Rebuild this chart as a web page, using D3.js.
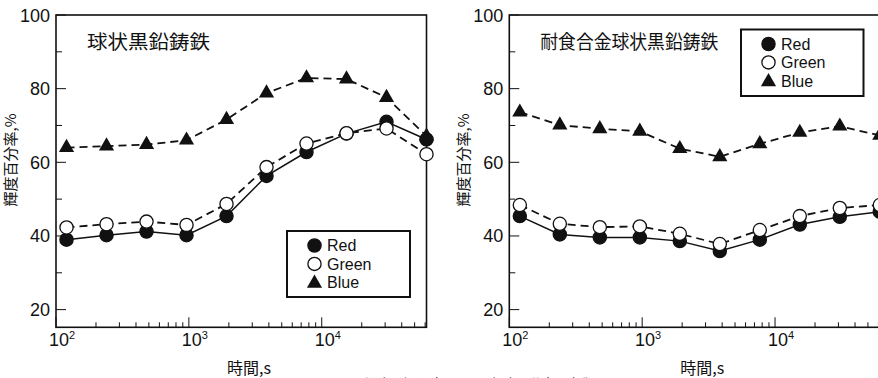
<!DOCTYPE html>
<html>
<head>
<meta charset="utf-8">
<script src="https://cdn.jsdelivr.net/npm/d3@7"></script>
<style>
  body { margin: 0; background: #fff; }
  svg { display: block; font-family: "Liberation Sans", Arial, sans-serif; }
  .jp { font-family: "Noto Sans CJK JP", sans-serif; }
</style>
</head>
<body>
<svg id="chart" width="878" height="378"></svg>
<script>
// elapsed time, s
const times = [120, 240, 480, 960, 1920, 3840, 7680, 15360, 30720, 61440];

// 球状黒鉛鋳鉄
const ductileRed   = [39.0, 40.2, 41.2, 40.2, 45.4, 56.3, 62.8, 67.8, 71.0, 66.2];
const ductileGreen = [42.3, 43.2, 43.9, 43.0, 48.7, 58.7, 65.1, 67.9, 69.2, 62.2];
const ductileBlue  = [64.0, 64.4, 64.8, 66.0, 71.6, 78.8, 82.9, 82.6, 77.6, 67.1];

// 耐食合金球状黒鉛鋳鉄
const alloyRed   = [45.4, 40.4, 39.6, 39.6, 38.6, 35.9, 39.0, 43.1, 45.2, 46.6];
const alloyGreen = [48.4, 43.3, 42.4, 42.6, 40.6, 37.8, 41.6, 45.4, 47.6, 48.4];
const alloyBlue  = [73.6, 70.1, 69.1, 68.4, 63.7, 61.5, 65.0, 68.1, 69.8, 67.3];

const yMajor = [20, 40, 60, 80, 100];
const yMinor = [30, 50, 70, 90];
const xMajor = [100, 1000, 10000];
const legendNames = ["Red", "Green", "Blue"];

const svg = d3.select("#chart");

const panels = [
  { left: 56, title: "球状黒鉛鋳鉄", titleLen: 123,
    red: ductileRed, green: ductileGreen, blue: ductileBlue,
    legend: { x: 287, y: 231, w: 123, h: 66 } },
  { left: 509.3, title: "耐食合金球状黒鉛鋳鉄", titleLen: 178,
    red: alloyRed, green: alloyGreen, blue: alloyBlue,
    legend: { x: 741, y: 29.5, w: 122.5, h: 66.5 } }
];

const plotTop = 15, plotBottom = 327.3, plotW = 370.5;
const y = d3.scaleLinear().domain([15.2, 100]).range([plotBottom, plotTop]);

const tri = d3.symbol(d3.symbolTriangle, 100);

function marker(g, kind, cx, cy) {
  if (kind === "blue") {
    g.append("path").attr("d", tri)
      .attr("transform", `translate(${cx},${cy})`)
      .attr("fill", "#111");
  } else {
    g.append("circle").attr("cx", cx).attr("cy", cy).attr("r", 6.6)
      .attr("fill", kind === "red" ? "#111" : "#fff")
      .attr("stroke", "#111").attr("stroke-width", 1.3);
  }
}

panels.forEach(p => {
  const x = d3.scaleLog().domain([100, 61440]).range([p.left, p.left + plotW]);
  const g = svg.append("g");

  // frame
  g.append("rect").attr("x", p.left).attr("y", plotTop)
    .attr("width", plotW).attr("height", plotBottom - plotTop)
    .attr("fill", "none").attr("stroke", "#111").attr("stroke-width", 1.6);

  // y ticks (inward)
  yMajor.forEach(v => {
    g.append("line").attr("x1", p.left).attr("x2", p.left + 10)
      .attr("y1", y(v)).attr("y2", y(v)).attr("stroke", "#111").attr("stroke-width", 1);
    g.append("text").attr("x", p.left - 6).attr("y", y(v) + 6.5)
      .attr("text-anchor", "end").attr("font-size", 18).attr("fill", "#111")
      .text(v);
  });
  yMinor.forEach(v => {
    g.append("line").attr("x1", p.left).attr("x2", p.left + 6)
      .attr("y1", y(v)).attr("y2", y(v)).attr("stroke", "#111").attr("stroke-width", 1);
  });

  // x ticks (inward)
  const minor = [];
  xMajor.forEach(d => { for (let k = 2; k <= 9; k++) if (d * k < 61000) minor.push(d * k); });
  minor.forEach(v => {
    g.append("line").attr("x1", x(v)).attr("x2", x(v))
      .attr("y1", plotBottom).attr("y2", plotBottom - 5).attr("stroke", "#111").attr("stroke-width", 1);
  });
  xMajor.forEach(v => {
    g.append("line").attr("x1", x(v)).attr("x2", x(v))
      .attr("y1", plotBottom).attr("y2", plotBottom - 10).attr("stroke", "#111").attr("stroke-width", 1);
    const t = g.append("text").attr("x", x(v) + 6).attr("y", 346)
      .attr("text-anchor", "middle").attr("font-size", 18).attr("fill", "#111");
    t.append("tspan").text("10");
    t.append("tspan").attr("dy", -7).attr("font-size", 11).text(Math.round(Math.log10(v)));
  });

  // axis titles
  g.append("text").attr("class", "jp")
    .attr("transform", `translate(${p.left - 40},160) rotate(-90)`)
    .attr("text-anchor", "middle").attr("font-size", 15).attr("fill", "#111")
    .text("輝度百分率,%");
  g.append("text").attr("class", "jp")
    .attr("x", p.left + 193).attr("y", 374)
    .attr("text-anchor", "middle").attr("font-size", 16).attr("fill", "#111")
    .text("時間,s");

  // panel title
  g.append("text").attr("class", "jp")
    .attr("x", p.left + 31).attr("y", 49)
    .attr("font-size", 19).attr("fill", "#111")
    .attr("textLength", p.titleLen).attr("lengthAdjust", "spacingAndGlyphs")
    .text(p.title);

  // series lines
  const line = d3.line().x((d, i) => x(times[i])).y(d => y(d));
  const series = [
    { key: "blue", vals: p.blue, dash: "8,5", w: 1.8 },
    { key: "red", vals: p.red, dash: null, w: 1.5 },
    { key: "green", vals: p.green, dash: "8,5", w: 1.8 }
  ];
  series.forEach(s => {
    g.append("path").datum(s.vals).attr("d", line)
      .attr("fill", "none").attr("stroke", "#111").attr("stroke-width", s.w)
      .attr("stroke-dasharray", s.dash);
  });
  series.forEach(s => {
    s.vals.forEach((v, i) => marker(g, s.key, x(times[i]), y(v)));
  });

  // legend
  const L = p.legend;
  g.append("rect").attr("x", L.x).attr("y", L.y).attr("width", L.w).attr("height", L.h)
    .attr("fill", "#fff").attr("stroke", "#111").attr("stroke-width", 2);
  ["red", "green", "blue"].forEach((k, i) => {
    const cy = L.y + 14.5 + i * 18.4;
    marker(g, k, L.x + 27.5, cy + (k === "blue" ? 1 : 0));
    g.append("text").attr("x", L.x + 40).attr("y", cy + 5.8)
      .attr("font-size", 16).attr("fill", "#111").text(legendNames[i]);
  });
});

// figure caption (cut off at the bottom edge)
svg.append("text").attr("class", "jp")
  .attr("x", 466).attr("y", 391).attr("text-anchor", "middle")
  .attr("font-size", 16).attr("fill", "#111")
  .attr("textLength", 253).attr("lengthAdjust", "spacingAndGlyphs")
  .text("図　温度と経過時間による輝度百分率の変化");
</script>
</body>
</html>
